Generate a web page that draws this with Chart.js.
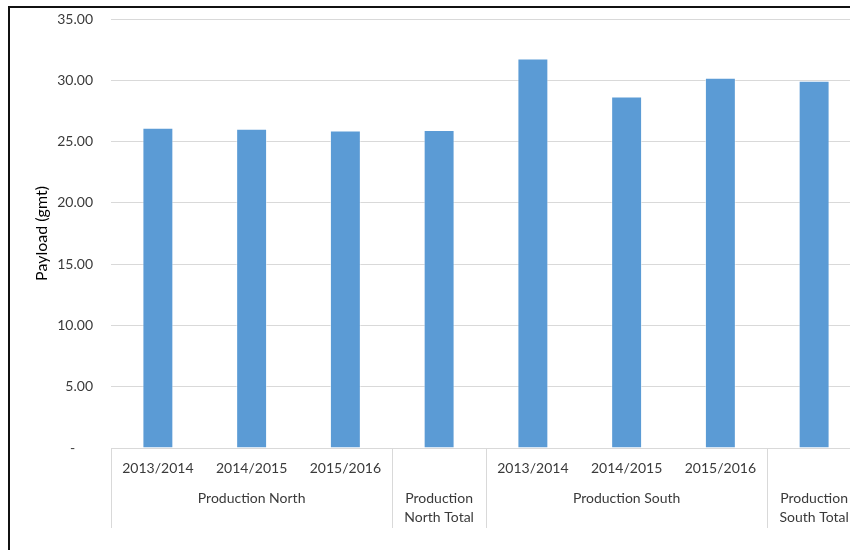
<!DOCTYPE html>
<html>
<head>
<meta charset="utf-8">
<script src="https://cdn.jsdelivr.net/npm/chart.js@4"></script>
<style>
  html, body { margin: 0; padding: 0; overflow: hidden; background: #fff; width: 850px; height: 550px; }
  #wrap { position: absolute; left: 0; top: 0; width: 870px; height: 550px; }
  #frame { position: absolute; left: 8px; top: 6px; width: 900px; height: 600px; border-left: 2px solid #111; border-top: 2px solid #111; pointer-events: none; }
</style>
</head>
<body>
<div id="wrap"><canvas id="c" width="870" height="550"></canvas></div>
<div id="frame"></div>
<script>
const categories = ['2013/2014', '2014/2015', '2015/2016', '', '2013/2014', '2014/2015', '2015/2016', ''];
const payload = [26.12, 26.04, 25.91, 25.95, 31.77, 28.68, 30.21, 29.97];
const groupNames = [['Production North'], ['Production', 'North Total'], ['Production South'], ['Production', 'South Total']];
const groupStart = [0, 3, 4, 7];
const groupEnd = [2, 3, 6, 7];
const yTicks = [0, 5, 10, 15, 20, 25, 30, 35];
const yTitle = 'Payload (gmt)';

const FONT = 'Lato, "Open Sans", sans-serif';
const TXT = '#3a3a3a';

const multiLevelAxis = {
  id: 'multiLevelAxis',
  afterDraw(chart) {
    const ctx = chart.ctx;
    const x = chart.scales.x;
    const area = chart.chartArea;
    const n = categories.length;
    const step = x.getPixelForValue(1) - x.getPixelForValue(0);
    const base = area.bottom;
    ctx.save();
    ctx.strokeStyle = '#d9d9d9';
    ctx.lineWidth = 1;
    groupStart.forEach(s => {
      const px = Math.round(x.getPixelForValue(s) - step / 2) + 0.5;
      ctx.beginPath();
      ctx.moveTo(px, base);
      ctx.lineTo(px, base + 80);
      ctx.stroke();
    });
    ctx.fillStyle = TXT;
    ctx.font = '14px ' + FONT;
    ctx.textAlign = 'center';
    ctx.textBaseline = 'middle';
    for (let i = 0; i < n; i++) {
      if (categories[i]) ctx.fillText(categories[i], x.getPixelForValue(i), base + 20);
    }
    groupNames.forEach((lines, g) => {
      const cx = (x.getPixelForValue(groupStart[g]) + x.getPixelForValue(groupEnd[g])) / 2;
      lines.forEach((t, k) => ctx.fillText(t, cx, base + 50 + k * 19));
    });
    ctx.restore();
  }
};

new Chart(document.getElementById('c'), {
  type: 'bar',
  data: {
    labels: categories,
    datasets: [{
      label: yTitle,
      data: payload,
      backgroundColor: '#5b9bd5',
      borderColor: 'rgba(255,255,255,0.5)',
      borderWidth: { left: 1, right: 1, top: 1, bottom: 0 },
      barPercentage: 0.33,
      categoryPercentage: 1.0
    }]
  },
  options: {
    responsive: false,
    animation: false,
    layout: { padding: { left: 0, right: 9, top: 19, bottom: 94 } },
    plugins: { legend: { display: false }, tooltip: { enabled: false } },
    scales: {
      x: {
        grid: { display: false },
        border: { display: true, color: '#d9d9d9' },
        ticks: { display: false }
      },
      y: {
        min: 0,
        max: 35,
        afterBuildTicks(scale) { scale.ticks = yTicks.map(v => ({ value: v })); },
        afterFit(scale) { scale.width = 111; scale.paddingTop = 0; scale.paddingBottom = 0; },
        grid: { color: '#d9d9d9', drawTicks: false },
        border: { display: false },
        ticks: {
          padding: 18,
          color: TXT,
          font: { family: FONT, size: 14 },
          callback: v => v === 0 ? '-     ' : Number(v).toFixed(2)
        },
        title: {
          display: true,
          text: yTitle,
          color: '#000',
          font: { family: FONT, size: 16 },
          padding: { top: 32, bottom: 0 }
        }
      }
    }
  },
  plugins: [multiLevelAxis]
});
</script>
</body>
</html>
